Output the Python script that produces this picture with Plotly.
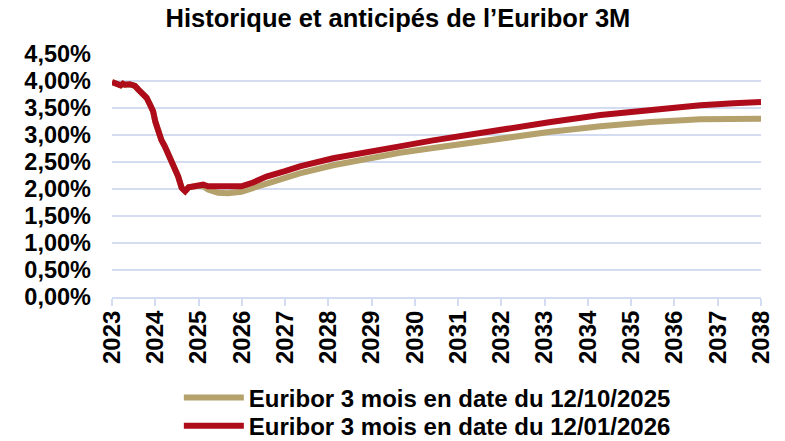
import plotly.graph_objects as go

# ---- data ----
hist_years = [2023.00, 2023.07, 2023.14, 2023.20, 2023.25, 2023.30, 2023.41, 2023.53,
              2023.61, 2023.72, 2023.80, 2023.88, 2023.95, 2024.00, 2024.07, 2024.14,
              2024.22, 2024.30, 2024.38, 2024.45, 2024.53, 2024.61, 2024.69, 2024.77,
              2024.88, 2024.99]
hist_vals = [3.98, 3.96, 3.95, 3.92, 3.95, 3.93, 3.94, 3.91,
             3.84, 3.75, 3.69, 3.56, 3.44, 3.25, 3.04, 2.91,
             2.79, 2.64, 2.54, 2.42, 2.23, 2.02, 1.96, 2.03,
             2.05, 2.06]

red_fwd_years = [2025.11, 2025.22, 2025.45, 2025.68, 2025.99, 2026.26, 2026.57, 2027.00,
                 2027.34, 2028.11, 2028.88, 2029.65, 2030.42, 2031.19, 2031.98, 2033.14,
                 2034.29, 2035.45, 2036.60, 2037.37, 2038.00]
red_fwd_vals = [2.08, 2.05, 2.05, 2.03, 2.05, 2.12, 2.23, 2.33,
                2.42, 2.57, 2.69, 2.79, 2.90, 3.00, 3.10, 3.24,
                3.37, 3.47, 3.55, 3.59, 3.61]

gold_fwd_years = [2025.11, 2025.22, 2025.45, 2025.68, 2025.99, 2026.26, 2026.57, 2027.34,
                  2028.11, 2028.88, 2029.65, 2030.42, 2031.19, 2031.98, 2033.14, 2034.29,
                  2035.45, 2036.60, 2037.37, 2038.00]
gold_fwd_vals = [2.05, 1.99, 1.93, 1.92, 1.95, 2.02, 2.10, 2.29,
                 2.44, 2.56, 2.67, 2.76, 2.85, 2.92, 3.06, 3.16,
                 3.24, 3.29, 3.30, 3.30]

series_names = ["Euribor 3 mois en date du 12/10/2025",
                "Euribor 3 mois en date du 12/01/2026"]
x_tick_vals = list(range(2023, 2039))
x_tick_labels = [str(y) for y in x_tick_vals]
y_tick_vals = [0, 0.5, 1, 1.5, 2, 2.5, 3, 3.5, 4, 4.5]
y_tick_labels = ["0,00%", "0,50%", "1,00%", "1,50%", "2,00%", "2,50%",
                 "3,00%", "3,50%", "4,00%", "4,50%"]
title_text = "Historique et anticipés de l’Euribor 3M"

GOLD = "#B4A16B"
RED = "#AE0C1A"
GRID = "#D3DCF0"
FONT = "Liberation Sans, Arial, sans-serif"

fig = go.Figure()
fig.add_trace(go.Scatter(
    x=hist_years + gold_fwd_years, y=hist_vals + gold_fwd_vals,
    mode="lines", name=series_names[0], legend="legend",
    line=dict(color=GOLD, width=6)))
fig.add_trace(go.Scatter(
    x=hist_years + red_fwd_years, y=hist_vals + red_fwd_vals,
    mode="lines", name=series_names[1], legend="legend2",
    line=dict(color=RED, width=6)))

legend_font = dict(size=24, family=FONT, color="black", weight="bold")
legend_common = dict(x=0.103, xanchor="left", yanchor="middle", orientation="v",
                     font=legend_font, itemwidth=60, bgcolor="rgba(0,0,0,0)")

fig.update_layout(
    width=785, height=441,
    margin=dict(l=112, r=24, t=54, b=144, autoexpand=False),
    paper_bgcolor="white", plot_bgcolor="white",
    font=dict(family=FONT, color="black"),
    title=dict(text="<b>" + title_text + "</b>", x=0.507, xref="container",
               xanchor="center", y=0.959, yref="container", yanchor="middle",
               font=dict(size=25.5, family=FONT, color="black")),
    showlegend=True,
    legend=dict(y=-0.415, **legend_common),
    legend2=dict(y=-0.531, **legend_common),
    xaxis=dict(range=[2023, 2038], tickvals=x_tick_vals, ticktext=x_tick_labels,
               tickangle=-90, showgrid=False, zeroline=False,
               showline=True, linecolor=GRID, linewidth=2,
               ticks="outside", ticklen=7, tickcolor=GRID, tickwidth=2,
               ticklabelstandoff=-5,
               tickfont=dict(size=24, family=FONT, color="black", weight="bold")),
    yaxis=dict(range=[0, 4.5], tickvals=y_tick_vals, ticktext=y_tick_labels,
               showgrid=True, gridcolor=GRID, gridwidth=2, zeroline=False,
               showline=False, ticks="", ticklabelstandoff=20,
               tickfont=dict(size=23.5, family=FONT, color="black", weight="bold")),
)

fig.write_html("out.html", config={"displayModeBar": False},
               post_script="document.body.style.margin='0px';")
